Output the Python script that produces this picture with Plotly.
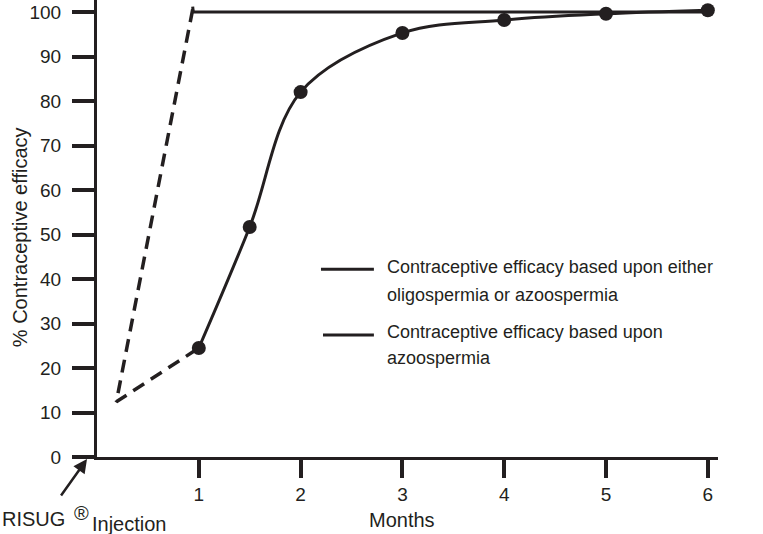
import plotly.graph_objects as go

# Data
months = [1, 1.5, 2, 3, 4, 5, 6]
efficacy_azoo = [24.5, 51.7, 82.0, 95.3, 98.2, 99.6, 100.4]

dash_x = [0.94, 0.19, 1.0]
dash_y = [100.6, 12.4, 24.5]

top_x = [0.94, 0.945, 6.0]
top_y = [101.2, 100.0, 100.0]

y_ticks = [0, 10, 20, 30, 40, 50, 60, 70, 80, 90, 100]
x_ticks = [1, 2, 3, 4, 5, 6]

legend_1 = ["Contraceptive efficacy based upon either", "oligospermia or azoospermia"]
legend_2 = ["Contraceptive efficacy based upon", "azoospermia"]

INK = "#231f20"
FONT = "Liberation Sans, Arial, Helvetica, sans-serif"

fig = go.Figure()

fig.add_trace(go.Scatter(
    x=dash_x, y=dash_y, mode="lines",
    line=dict(color=INK, width=3.5, dash="13px,8px"),
    showlegend=False, cliponaxis=False, hoverinfo="skip"))

fig.add_trace(go.Scatter(
    x=top_x, y=top_y, mode="lines",
    line=dict(color=INK, width=3),
    showlegend=False, cliponaxis=False,
    name=" ".join(legend_1)))

fig.add_trace(go.Scatter(
    x=months, y=efficacy_azoo, mode="lines+markers",
    line=dict(color=INK, width=3, shape="spline", smoothing=1.0),
    marker=dict(color=INK, size=14),
    showlegend=False, cliponaxis=False,
    name=" ".join(legend_2)))

# Manual legend
fig.add_shape(type="line", xref="x", yref="y", x0=2.2, x1=2.72, y0=42.2, y1=42.2,
              line=dict(color=INK, width=3))
fig.add_shape(type="line", xref="x", yref="y", x0=2.22, x1=2.72, y0=27.4, y1=27.4,
              line=dict(color=INK, width=3))

legend_rows = [(legend_1[0], 42.7), (legend_1[1], 36.4), (legend_2[0], 28.1), (legend_2[1], 22.2)]
for txt, yy in legend_rows:
    fig.add_annotation(x=2.83, y=yy, xref="x", yref="y", text=txt, showarrow=False,
                       xanchor="left", yanchor="middle",
                       font=dict(family=FONT, size=18, color=INK))

# Axis titles and notes
fig.add_annotation(x=-77/621, y=0.481, xref="paper", yref="paper",
                   text="% Contraceptive efficacy", textangle=-90, showarrow=False,
                   xanchor="center", yanchor="middle",
                   font=dict(family=FONT, size=20, color=INK))
fig.add_annotation(x=3.0, y=(457-520)/457, xref="x", yref="paper", text="Months", showarrow=False,
                   xanchor="center", yanchor="middle",
                   font=dict(family=FONT, size=20, color=INK))

fig.add_annotation(x=-97/621, y=(457-519)/457, xref="paper", yref="paper", text="RISUG",
                   showarrow=False, xanchor="left", yanchor="middle",
                   font=dict(family=FONT, size=20, color=INK))
fig.add_annotation(x=(81-97)/621, y=(457-513)/457, xref="paper", yref="paper", text="®",
                   showarrow=False, xanchor="center", yanchor="middle",
                   font=dict(family=FONT, size=20, color=INK))
fig.add_annotation(x=(90-97)/621, y=(457-524)/457, xref="paper", yref="paper", text="Injection",
                   showarrow=False, xanchor="left", yanchor="middle",
                   font=dict(family=FONT, size=20, color=INK))
fig.add_annotation(x=(87-97)/621, y=(457-459)/457, xref="paper", yref="paper", text="",
                   showarrow=True, ax=-27, ay=38, arrowhead=2, arrowsize=1.1,
                   arrowwidth=2.5, arrowcolor=INK)

fig.update_xaxes(range=[0, 6.1], tickvals=x_ticks, ticks="outside", ticklen=18, tickwidth=4,
                 tickcolor=INK, showline=True, linewidth=3, linecolor=INK, showgrid=False,
                 zeroline=False, tickfont=dict(family=FONT, size=19, color=INK))
fig.update_yaxes(range=[0, 102.7], tickvals=y_ticks, ticks="outside", ticklen=22, tickwidth=4,
                 tickcolor=INK, showline=True, linewidth=3, linecolor=INK, showgrid=False,
                 zeroline=False, ticklabelstandoff=7,
                 tickfont=dict(family=FONT, size=19, color=INK))

fig.update_layout(width=763, height=534, margin=dict(l=97, r=45, t=0, b=77),
                  paper_bgcolor="white", plot_bgcolor="white", showlegend=False,
                  hovermode=False)

fig.write_html("out.html", config={"displayModeBar": False, "staticPlot": True},
               post_script="document.body.style.margin='0';")
